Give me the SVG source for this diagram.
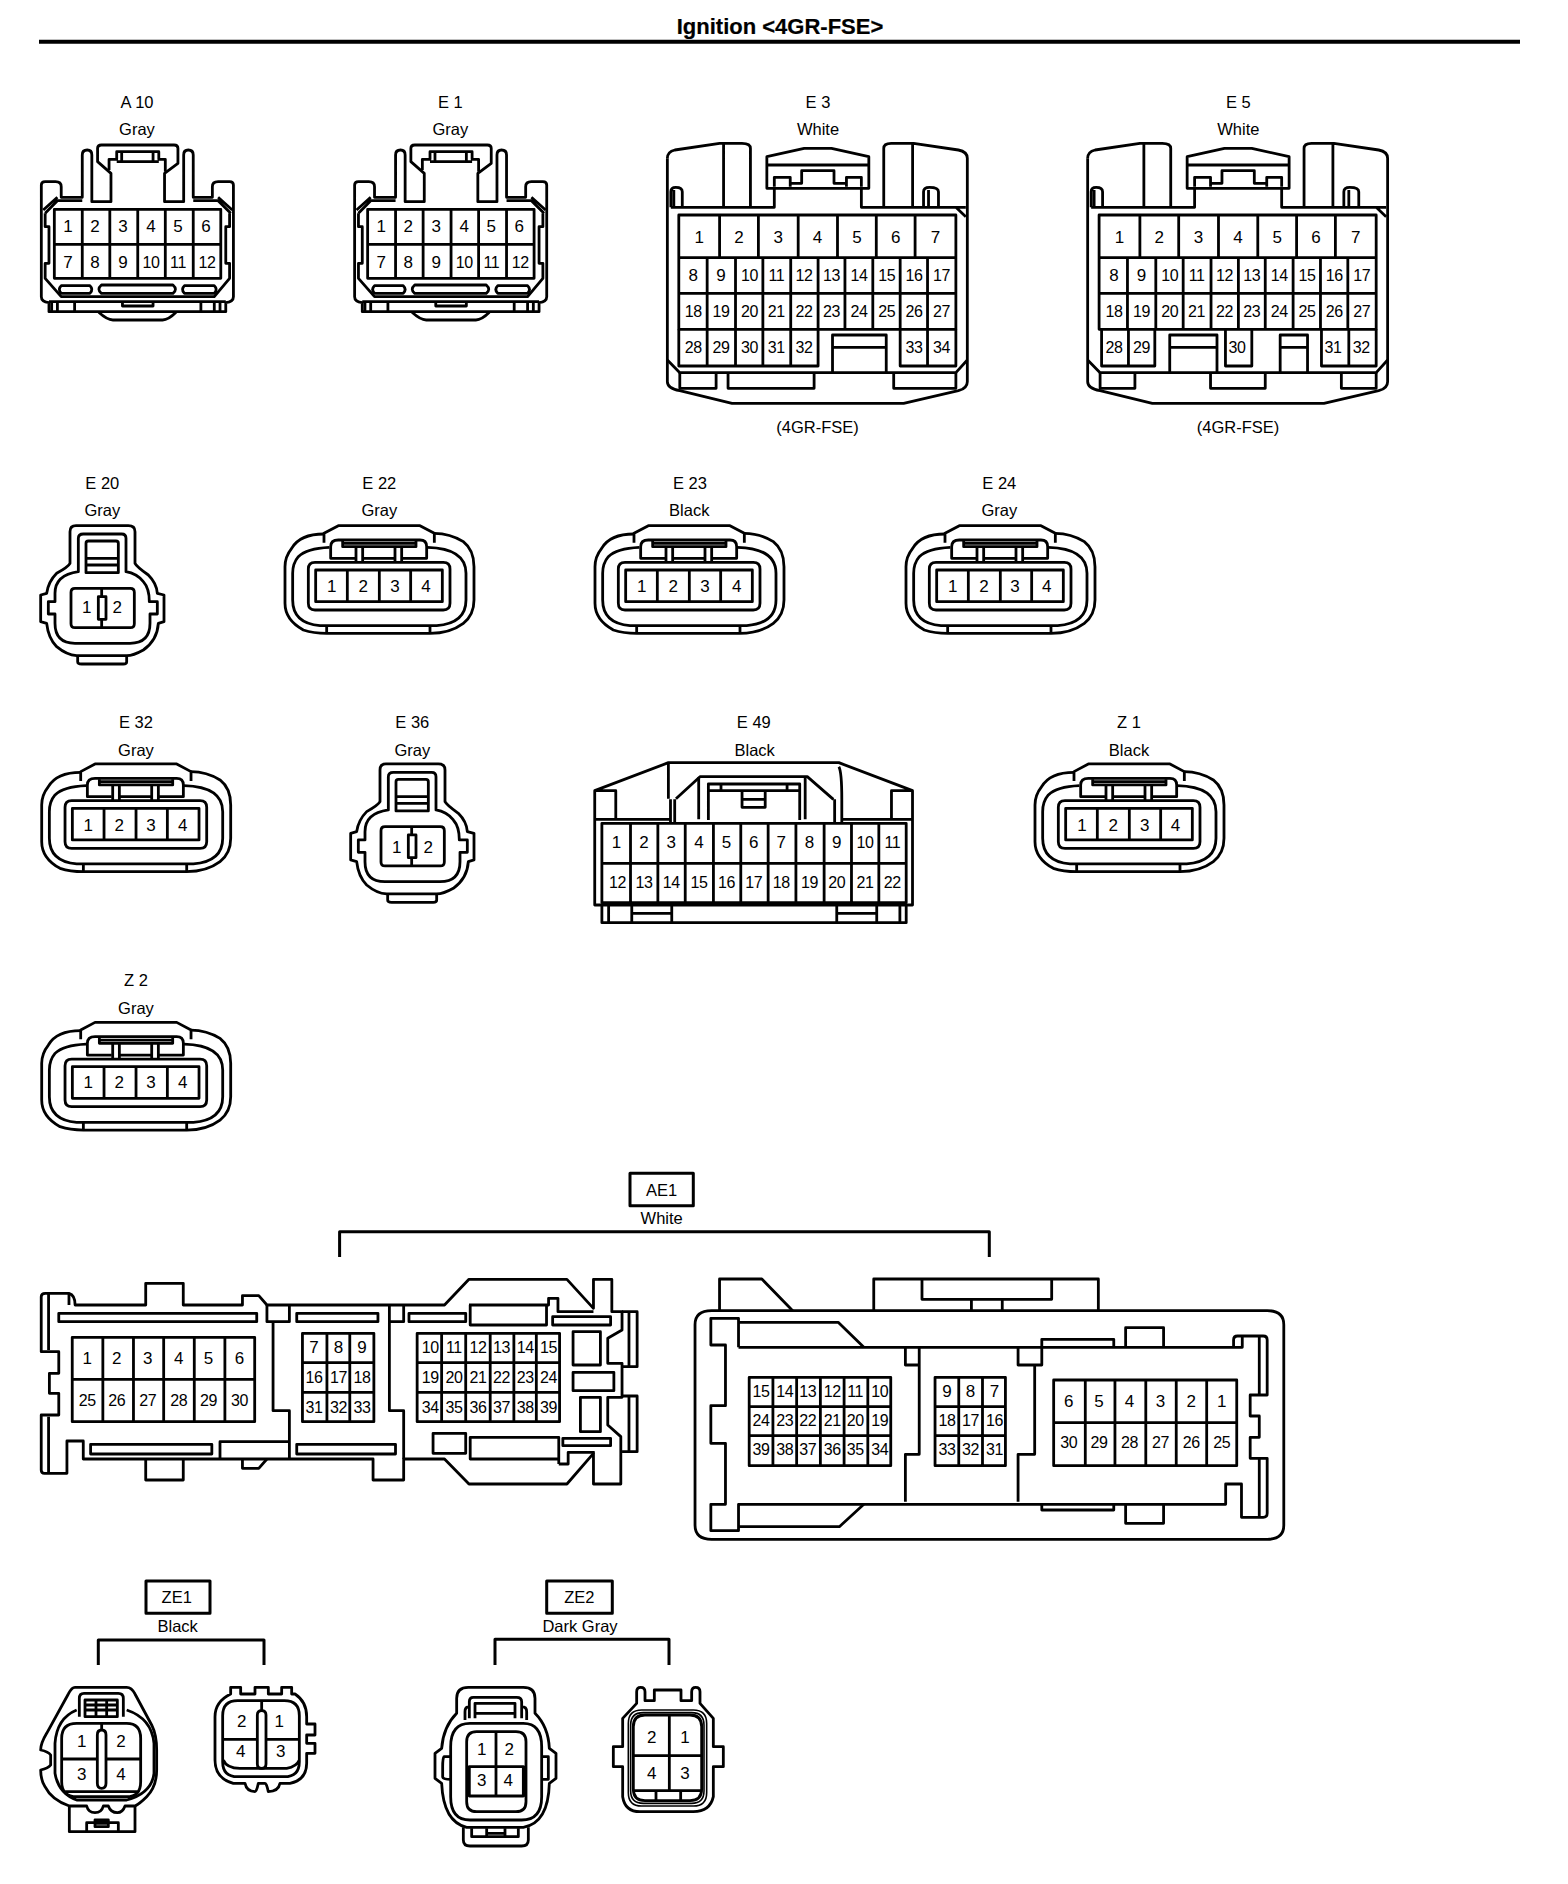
<svg xmlns="http://www.w3.org/2000/svg" xmlns:xlink="http://www.w3.org/1999/xlink" width="1568" height="1884" viewBox="0 0 1568 1884">
<style>
path{fill:none;stroke:#000;stroke-width:2.8;stroke-linejoin:round;vector-effect:non-scaling-stroke}
path.w{fill:#fff}
path.thin{stroke-width:1.6}
text{font-family:"Liberation Sans",Arial,sans-serif;fill:#000;text-anchor:middle}
.title{font-size:22px;font-weight:bold;stroke:#000;stroke-width:.2}
.l{font-size:16.5px;transform:translateY(.5px)}
.d{font-size:17px}
.t{font-size:16px;letter-spacing:-.4px}
.rule,.br{fill:none;stroke:#000;stroke-width:3}
.rule{stroke-width:4}
</style>
<defs>
<g id="a10">
<path d="M160 592H215V465Q215 450 228 450Q240 450 240 465V605H290V520L255 485V445Q255 435 265 435H455Q465 435 465 445V490L430 520V605H480V465Q480 450 492 450Q505 450 505 465V592H555V560Q555 545 570 545H600Q610 545 610 555V890Q610 905 590 908V935H128V908Q108 905 108 890V555Q108 545 118 545H145Q160 545 160 560Z"/>
<path d="M285 510V478H305V455H415V478H432V515M318 455V485H400V455M305 485H415"/>
<path d="M113 630L150 592M118 640L150 602H215M505 602H570L603 640M570 592L607 630"/>
<path d="M118 640V680H128V790H118V835L160 890H560L600 835V790H590V680H600V640"/>
<path d="M160 857H235Q245 868 235 880H160Q150 868 160 857ZM265 855H452Q465 868 452 880H265Q252 868 265 855ZM482 857H560Q570 868 560 880H482Q472 868 482 857Z"/>
<path d="M128 905H590M135 908V935M150 908V935M195 908V935M525 908V935M560 908V935M575 908V935M320 908V918H400V908"/>
<path d="M258 937Q280 960 295 960H425Q440 960 460 937"/>
<path d="M142 628H577V835H142ZM142 733H577M215 628V835M287 628V835M360 628V835M432 628V835M505 628V835"/>
</g>
<g id="e3b">
<path d="M55 235Q55 215 70 210L160 190H205Q222 190 222 205V382M168 190V382"/>
<path d="M55 235V905Q55 925 80 932L185 970H530L640 932Q658 925 658 905V235Q658 215 640 210L550 190H505Q490 190 490 205V382M548 190V382"/>
<path d="M62 382V335Q62 322 72 322Q85 322 85 335V382M68 330V382M570 382V335Q570 322 582 322Q600 322 600 335V382M580 330V382"/>
<path d="M62 382H270V325M445 325V382H655M635 382L655 410"/>
<path d="M255 230L330 205H385L460 230V325H255ZM255 255H460M270 320V292H302V320M302 310H325V272H390V310H415M415 320V292H445V320"/>
<path d="M55 840L80 878H635L658 840"/>
<path d="M78 405H635V748H78ZM78 533H635M78 640H635M160 405V533M238 405V533M318 405V533M397 405V533M475 405V533M553 405V533M135 533V748M192 533V748M247 533V748M303 533V748M358 533V748M412 533V748M468 533V748M523 533V748M578 533V748"/>
</g>
<g id="e3x">
<path d="M78 748V858H358V748M135 748V858M192 748V858M247 748V858M303 748V858M523 748V858H635V748M578 748V858"/>
<path d="M387 878V765H495V878M387 802H495"/>
<path d="M80 878V925H153V878M177 878V925H350V878M510 878V925H635V878"/>
</g>
<g id="e5x">
<path d="M83 748V858H190V748M137 748V858M332 748V858H385V748M525 748V858H635V748M580 748V858"/>
<path d="M220 878V765H315V878M220 802H315M442 878V765H497V878M442 802H497"/>
<path d="M80 878V925H150V878M302 878V925H412V878M565 878V925H635V878"/>
</g>
<g id="e20">
<path d="M150 310V215Q150 197 168 197H325Q345 197 345 215V310Q350 320 385 345Q410 370 412 400L432 405V485L415 490Q412 540 370 570Q340 587 320 587H170Q140 585 110 560Q85 535 80 490L62 485V405L80 400Q85 365 110 340Q145 320 150 310Z"/>
<path d="M175 335V235Q175 222 190 222H305Q318 222 318 235V335Q350 340 370 365Q388 385 388 425H412V462H390V490Q390 550 330 550H165Q105 550 105 490V462H85V425H105V400Q105 345 175 335Z"/>
<path d="M205 243H288Q295 243 295 250V338H198V250Q198 243 205 243ZM198 295H295M198 315H295"/>
<path d="M165 385H331Q343 385 343 397V491Q343 503 331 503H165Q153 503 153 491V397Q153 385 165 385ZM245 385V503"/>
<path class="w" d="M235 410H258V478H235Z"/>
<path d="M173 587V605Q173 612 185 612H310Q320 612 320 605V587"/>
</g>
<g id="e22">
<path d="M912 222Q840 222 815 265Q795 290 795 320V430Q795 480 850 510Q880 520 920 520H1230Q1290 520 1330 490Q1362 465 1362 420V320Q1362 270 1330 245Q1290 220 1243 220"/>
<path d="M912 248V220L955 197H1200L1243 220V248"/>
<path d="M928 262Q860 265 835 290Q818 310 818 340V420Q818 490 900 497H1250Q1338 490 1338 420V340Q1338 265 1222 262"/>
<path d="M920 497V520M1230 497V520"/>
<path d="M1005 295H932V260Q932 240 955 240H1200Q1220 240 1220 260V295H1145M1125 295H1028"/>
<path d="M968 243V260H1188V243M968 250H1188"/>
<path d="M1008 262V305M1028 262V305M1125 262V305M1145 262V305"/>
<path d="M885 307H1270Q1290 307 1290 327V430Q1290 450 1270 450H885Q865 450 865 430V327Q865 307 885 307Z"/>
<path d="M887 330H1267V425H887ZM982 330V425M1078 330V425M1172 330V425"/>
</g>
<g id="ae1l">
<path d="M70 400H120Q135 405 135 435H308V370H400V435H545V407H585L605 435H1040L1100 358H1340L1405 445V358H1450V455H1475V510L1440 535V610H1475V712H1440V795L1472 830V972H1405V880L1340 972H1100L1040 897H940V960H865V897H155V843H115V940H60Q52 940 52 930V765H95V700H72V640H95V575H52V410Q52 400 62 400Z"/>
<path d="M70 400V570M70 770V940M120 400V435"/>
<path d="M1100 435H1295V415H1318V455H1405M1103 435V495H1290V435"/>
<path d="M1475 455H1512V620H1475M1492 455V620M1475 708H1512V875H1475M1492 708V875"/>
<path d="M1305 470H1447V495H1305Z"/>
<path d="M1103 832H1320V897H1103ZM1320 912H1343V877H1408M1320 897V912"/>
<path d="M1330 835H1447V857H1330Z"/>
<path d="M1012 820H1092V880H1012Z"/>
<path d="M1355 515H1422V615H1355ZM1355 637H1455V692H1355ZM1373 712H1422V815H1373Z"/>
<path d="M95 460H580V485H95ZM173 853H470V882H173ZM678 460H877V485H678ZM678 853H920V882H678ZM953 460H1092V485H953Z"/>
<path d="M308 897V960H400V897M545 897V925H585L605 897"/>
<path d="M605 435V485H660V435M620 485V752H660V897M490 897V845H660"/>
<path d="M905 435V752H940V897M905 485H940V435"/>
<path d="M128 532H575V785H128ZM128 658H575M203 532V785M278 532V785M352 532V785M427 532V785M502 532V785"/>
<path d="M692 520H867V785H692ZM692 608H867M692 697H867M752 520V785M808 520V785"/>
<path d="M973 520H1322V785H973ZM973 608H1322M973 697H1322M1033 520V785M1092 520V785M1152 520V785M1210 520V785M1265 520V785"/>
</g>
<g id="ae1r">
<path d="M80 152H1485Q1527 152 1527 194V796Q1527 838 1485 838H80Q38 838 38 796V194Q38 152 80 152Z"/>
<path d="M100 152V57H207L285 152M490 152V57H1058V152M612 57V118H940V57M737 118V152M815 118V152"/>
<path d="M148 262H1400M148 262V175H78V255H115V437H78V550H115V733H78V812H148V733H1380V672H1420V772H1475Q1485 772 1485 760V595H1442V532H1465V468H1442V405H1485V240Q1485 228 1475 228H1410Q1400 228 1400 240V262H1422V228M1465 228V405M1465 595V772"/>
<path d="M148 187H400L465 262M148 800H403L465 733"/>
<path d="M570 262V315H605V262M605 315V583H570V725M855 262V315H915V238H1097V262M897 315V583H855V725M915 733V750H1097V733M1127 262V203H1223V262M1127 733V790H1223V733"/>
<path d="M175 352H533V617H175ZM175 440H533M175 527H533M235 352V617M295 352V617M355 352V617M415 352V617M475 352V617"/>
<path d="M645 352H823V617H645ZM645 440H823M645 527H823M705 352V617M765 352V617"/>
<path d="M945 360H1408V617H945ZM945 488H1408M1025 360V617M1100 360V617M1178 360V617M1255 360V617M1332 360V617"/>
</g>
</defs>

<text class="title" x="780" y="34">Ignition &lt;4GR-FSE&gt;</text>
<path id="title-rule" class="rule" d="M39 41.7H1520"/>

<g id="connectors">
<path class="br" d="M339.6 1257V1231.7H989.3V1257"/>
<path class="br" d="M98.3 1665V1640H264V1665"/>
<path class="br" d="M495 1665V1639.3H669V1665"/>
</g>

<g id="A10">
<use xlink:href="#a10" href="#a10" transform="scale(.38265 .33333)"/>
<text class="l" x="137" y="107.5">A 10</text><text class="l" x="137" y="134.5">Gray</text>
<text class="d" x="68" y="232.3">1</text><text class="d" x="95" y="232.3">2</text><text class="d" x="123" y="232.3">3</text><text class="d" x="151" y="232.3">4</text><text class="d" x="178" y="232.3">5</text><text class="d" x="206" y="232.3">6</text>
<text class="d" x="68" y="267.7">7</text><text class="d" x="95" y="267.7">8</text><text class="d" x="123" y="267.7">9</text><text class="t" x="151" y="267.7">10</text><text class="t" x="178" y="267.7">11</text><text class="t" x="207" y="267.7">12</text>
</g>
<g id="E1">
<use xlink:href="#a10" href="#a10" transform="translate(313.3 0) scale(.38265 .33333)"/>
<text class="l" x="450.4" y="107.5">E 1</text><text class="l" x="450.4" y="134.5">Gray</text>
<text class="d" x="381.3" y="232.3">1</text><text class="d" x="408.3" y="232.3">2</text><text class="d" x="436.3" y="232.3">3</text><text class="d" x="464.3" y="232.3">4</text><text class="d" x="491.3" y="232.3">5</text><text class="d" x="519.3" y="232.3">6</text>
<text class="d" x="381.3" y="267.7">7</text><text class="d" x="408.3" y="267.7">8</text><text class="d" x="436.3" y="267.7">9</text><text class="t" x="464.3" y="267.7">10</text><text class="t" x="491.3" y="267.7">11</text><text class="t" x="520.3" y="267.7">12</text>
</g>
<g id="E3">
<use xlink:href="#e3b" href="#e3b" transform="translate(640 80) scale(.49745 .33333)"/>
<use xlink:href="#e3x" href="#e3x" transform="translate(640 80) scale(.49745 .33333)"/>
<text class="l" x="818" y="107.3">E 3</text><text class="l" x="818" y="134.5">White</text><text class="l" x="817.6" y="432.2" style="font-size:16.5px">(4GR-FSE)</text>
<text class="d" x="699.2" y="242.7">1</text><text class="d" x="739" y="242.7">2</text><text class="d" x="778.3" y="242.7">3</text><text class="d" x="817.6" y="242.7">4</text><text class="d" x="856.9" y="242.7">5</text><text class="d" x="895.7" y="242.7">6</text><text class="d" x="935.5" y="242.7">7</text>
<text class="d" x="693.2" y="281">8</text><text class="d" x="721" y="281">9</text><text class="t" x="749.4" y="281">10</text><text class="t" x="776.3" y="281">11</text><text class="t" x="804.1" y="281">12</text><text class="t" x="831.5" y="281">13</text><text class="t" x="858.9" y="281">14</text><text class="t" x="886.7" y="281">15</text><text class="t" x="914" y="281">16</text><text class="t" x="941.4" y="281">17</text>
<text class="t" x="693.2" y="317.3">18</text><text class="t" x="721" y="317.3">19</text><text class="t" x="749.4" y="317.3">20</text><text class="t" x="776.3" y="317.3">21</text><text class="t" x="804.1" y="317.3">22</text><text class="t" x="831.5" y="317.3">23</text><text class="t" x="858.9" y="317.3">24</text><text class="t" x="886.7" y="317.3">25</text><text class="t" x="914" y="317.3">26</text><text class="t" x="941.4" y="317.3">27</text>
<text class="t" x="693.2" y="352.7">28</text><text class="t" x="721" y="352.7">29</text><text class="t" x="749.4" y="352.7">30</text><text class="t" x="776.3" y="352.7">31</text><text class="t" x="804.1" y="352.7">32</text><text class="t" x="914" y="352.7">33</text><text class="t" x="941.4" y="352.7">34</text>
</g>
<g id="E5">
<use xlink:href="#e3b" href="#e3b" transform="translate(1060.3 80) scale(.49745 .33333)"/>
<use xlink:href="#e5x" href="#e5x" transform="translate(1060.3 80) scale(.49745 .33333)"/>
<text class="l" x="1238.4" y="107.3">E 5</text><text class="l" x="1238.4" y="134.5">White</text><text class="l" x="1238" y="432.2" style="font-size:16.5px">(4GR-FSE)</text>
<text class="d" x="1119.5" y="242.7">1</text><text class="d" x="1159.3" y="242.7">2</text><text class="d" x="1198.6" y="242.7">3</text><text class="d" x="1237.9" y="242.7">4</text><text class="d" x="1277.2" y="242.7">5</text><text class="d" x="1316" y="242.7">6</text><text class="d" x="1355.8" y="242.7">7</text>
<text class="d" x="1114" y="281">8</text><text class="d" x="1141.4" y="281">9</text><text class="t" x="1169.7" y="281">10</text><text class="t" x="1196.6" y="281">11</text><text class="t" x="1224.4" y="281">12</text><text class="t" x="1251.8" y="281">13</text><text class="t" x="1279.2" y="281">14</text><text class="t" x="1307" y="281">15</text><text class="t" x="1334.3" y="281">16</text><text class="t" x="1361.7" y="281">17</text>
<text class="t" x="1114" y="317.3">18</text><text class="t" x="1141.4" y="317.3">19</text><text class="t" x="1169.7" y="317.3">20</text><text class="t" x="1196.6" y="317.3">21</text><text class="t" x="1224.4" y="317.3">22</text><text class="t" x="1251.8" y="317.3">23</text><text class="t" x="1279.2" y="317.3">24</text><text class="t" x="1307" y="317.3">25</text><text class="t" x="1334.3" y="317.3">26</text><text class="t" x="1361.7" y="317.3">27</text>
<text class="t" x="1114" y="352.7">28</text><text class="t" x="1141.4" y="352.7">29</text><text class="t" x="1236.9" y="352.7">30</text><text class="t" x="1332.9" y="352.7">31</text><text class="t" x="1361.2" y="352.7">32</text>
</g>
<g id="E20">
<use xlink:href="#e20" href="#e20" transform="translate(20 460) scale(.33333)"/>
<text class="l" x="102.3" y="488.3">E 20</text><text class="l" x="102.3" y="515">Gray</text>
<text class="d" x="86.7" y="613.3">1</text><text class="d" x="117.3" y="613.3">2</text>
</g>
<g id="E22">
<use xlink:href="#e22" href="#e22" transform="translate(20 460) scale(.33333)"/>
<text class="l" x="379.3" y="488.3">E 22</text><text class="l" x="379.3" y="515">Gray</text>
<text class="d" x="331.7" y="591.7">1</text><text class="d" x="363.3" y="591.7">2</text><text class="d" x="395" y="591.7">3</text><text class="d" x="426" y="591.7">4</text>
</g>
<g id="E23">
<use xlink:href="#e22" href="#e22" transform="translate(330 460) scale(.33333)"/>
<text class="l" x="690" y="488.3">E 23</text><text class="l" x="689.3" y="515">Black</text>
<text class="d" x="641.7" y="591.7">1</text><text class="d" x="673.3" y="591.7">2</text><text class="d" x="705" y="591.7">3</text><text class="d" x="736.7" y="591.7">4</text>
</g>
<g id="E24">
<use xlink:href="#e22" href="#e22" transform="translate(641 460) scale(.33333)"/>
<text class="l" x="999.3" y="488.3">E 24</text><text class="l" x="999.3" y="515">Gray</text>
<text class="d" x="952.7" y="591.7">1</text><text class="d" x="984" y="591.7">2</text><text class="d" x="1015" y="591.7">3</text><text class="d" x="1046.7" y="591.7">4</text>
</g>
<g id="E32">
<use xlink:href="#e22" href="#e22" transform="translate(-223.3 698.3) scale(.33333)"/>
<text class="l" x="136" y="727.7">E 32</text><text class="l" x="136" y="755">Gray</text>
<text class="d" x="88.3" y="830.7">1</text><text class="d" x="119.3" y="830.7">2</text><text class="d" x="151" y="830.7">3</text><text class="d" x="182.7" y="830.7">4</text>
</g>
<g id="E36">
<use xlink:href="#e20" href="#e20" transform="translate(330 698.3) scale(.33333)"/>
<text class="l" x="412.3" y="727.7">E 36</text><text class="l" x="412.3" y="755">Gray</text>
<text class="d" x="396.7" y="852.7">1</text><text class="d" x="428.3" y="852.7">2</text>
</g>
<g id="E49">
<g transform="translate(580 700) scale(.4209 .33333)">
<path d="M35 272L210 188H615L790 272V615H35ZM35 272H85V358M740 358V272H790M35 358H215M622 358H790"/>
<path d="M210 190V296M215 298V372M225 298V372M228 296L285 230H540L602 298M605 298V370M622 298V372M615 200Q622 215 622 298"/>
<path d="M282 232V358M535 232V358M305 360V252H522V360M305 272H522M335 255V272M492 255V272M385 272V322H440V272M385 298H440"/>
<path d="M52 370H775V608H52ZM52 490H775M120 370V608M185 370V608M250 370V608M317 370V608M382 370V608M447 370V608M513 370V608M580 370V608M645 370V608M710 370V608"/>
<path d="M52 615V668H775V615M68 615V668M123 615V668M218 615V668M610 615V668M705 615V668M760 615V668M123 640H218M610 640H705"/>
</g>
<text class="l" x="753.8" y="727.7">E 49</text><text class="l" x="754.7" y="755">Black</text>
<text class="d" x="616.6" y="848.3">1</text><text class="d" x="644" y="848.3">2</text><text class="d" x="671.3" y="848.3">3</text><text class="d" x="699.1" y="848.3">4</text><text class="d" x="726.5" y="848.3">5</text><text class="d" x="753.8" y="848.3">6</text><text class="d" x="781.2" y="848.3">7</text><text class="d" x="809.4" y="848.3">8</text><text class="d" x="836.8" y="848.3">9</text><text class="t" x="865" y="848.3">10</text><text class="t" x="892.3" y="848.3">11</text>
<text class="t" x="617.5" y="888.3">12</text><text class="t" x="644" y="888.3">13</text><text class="t" x="671.3" y="888.3">14</text><text class="t" x="699.1" y="888.3">15</text><text class="t" x="726.5" y="888.3">16</text><text class="t" x="753.8" y="888.3">17</text><text class="t" x="781.2" y="888.3">18</text><text class="t" x="809.4" y="888.3">19</text><text class="t" x="836.8" y="888.3">20</text><text class="t" x="865" y="888.3">21</text><text class="t" x="892.3" y="888.3">22</text>
</g>
<g id="Z1">
<use xlink:href="#e22" href="#e22" transform="translate(770 698.3) scale(.33333)"/>
<text class="l" x="1129" y="727.7">Z 1</text><text class="l" x="1129" y="755">Black</text>
<text class="d" x="1082.1" y="830.7">1</text><text class="d" x="1113.3" y="830.7">2</text><text class="d" x="1144.8" y="830.7">3</text><text class="d" x="1175.6" y="830.7">4</text>
</g>
<g id="Z2">
<use xlink:href="#e22" href="#e22" transform="translate(-223.3 956.7) scale(.33333)"/>
<text class="l" x="136" y="985.7">Z 2</text><text class="l" x="136" y="1013.3">Gray</text>
<text class="d" x="88.3" y="1088.3">1</text><text class="d" x="119.3" y="1088.3">2</text><text class="d" x="151" y="1088.3">3</text><text class="d" x="182.7" y="1088.3">4</text>
</g>
<g id="AE1">
<path d="M630 1173.3H693.3V1205.7H630Z" style="stroke-width:3"/>
<text class="l" x="661.7" y="1195">AE1</text><text class="l" x="661.7" y="1223">White</text>
<use xlink:href="#ae1l" href="#ae1l" transform="translate(20 1160) scale(.40816 .33333)"/>
<use xlink:href="#ae1r" href="#ae1r" transform="translate(680 1260) scale(.39541 .33333)"/>
<text class="d" x="87.3" y="1364">1</text><text class="d" x="116.7" y="1364">2</text><text class="d" x="147.8" y="1364">3</text><text class="d" x="178.8" y="1364">4</text><text class="d" x="208.6" y="1364">5</text><text class="d" x="239.6" y="1364">6</text>
<text class="t" x="87.3" y="1405.7">25</text><text class="t" x="116.7" y="1405.7">26</text><text class="t" x="147.8" y="1405.7">27</text><text class="t" x="178.8" y="1405.7">28</text><text class="t" x="208.6" y="1405.7">29</text><text class="t" x="239.6" y="1405.7">30</text>
<text class="d" x="313.9" y="1353.3">7</text><text class="d" x="338.4" y="1353.3">8</text><text class="d" x="362" y="1353.3">9</text>
<text class="t" x="313.9" y="1383.3">16</text><text class="t" x="338.4" y="1383.3">17</text><text class="t" x="362" y="1383.3">18</text>
<text class="t" x="313.9" y="1413.3">31</text><text class="t" x="338.4" y="1413.3">32</text><text class="t" x="362" y="1413.3">33</text>
<text class="t" x="430.2" y="1353.3">10</text><text class="t" x="453.9" y="1353.3">11</text><text class="t" x="478" y="1353.3">12</text><text class="t" x="501.6" y="1353.3">13</text><text class="t" x="525.3" y="1353.3">14</text><text class="t" x="548.6" y="1353.3">15</text>
<text class="t" x="430.2" y="1383.3">19</text><text class="t" x="453.9" y="1383.3">20</text><text class="t" x="478" y="1383.3">21</text><text class="t" x="501.6" y="1383.3">22</text><text class="t" x="525.3" y="1383.3">23</text><text class="t" x="548.6" y="1383.3">24</text>
<text class="t" x="430.2" y="1413.3">34</text><text class="t" x="453.9" y="1413.3">35</text><text class="t" x="478" y="1413.3">36</text><text class="t" x="501.6" y="1413.3">37</text><text class="t" x="525.3" y="1413.3">38</text><text class="t" x="548.6" y="1413.3">39</text>
<text class="t" x="761" y="1396.7">15</text><text class="t" x="784.8" y="1396.7">14</text><text class="t" x="807.7" y="1396.7">13</text><text class="t" x="832.2" y="1396.7">12</text><text class="t" x="855.2" y="1396.7">11</text><text class="t" x="879.7" y="1396.7">10</text>
<text class="t" x="761" y="1426">24</text><text class="t" x="784.8" y="1426">23</text><text class="t" x="807.7" y="1426">22</text><text class="t" x="832.2" y="1426">21</text><text class="t" x="855.2" y="1426">20</text><text class="t" x="879.7" y="1426">19</text>
<text class="t" x="761" y="1455">39</text><text class="t" x="784.8" y="1455">38</text><text class="t" x="807.7" y="1455">37</text><text class="t" x="832.2" y="1455">36</text><text class="t" x="855.2" y="1455">35</text><text class="t" x="879.7" y="1455">34</text>
<text class="d" x="946.9" y="1396.7">9</text><text class="d" x="970.6" y="1396.7">8</text><text class="d" x="994.4" y="1396.7">7</text>
<text class="t" x="946.9" y="1426">18</text><text class="t" x="970.6" y="1426">17</text><text class="t" x="994.4" y="1426">16</text>
<text class="t" x="946.9" y="1455">33</text><text class="t" x="970.6" y="1455">32</text><text class="t" x="994.4" y="1455">31</text>
<text class="d" x="1068.7" y="1406.7">6</text><text class="d" x="1099.1" y="1406.7">5</text><text class="d" x="1129.6" y="1406.7">4</text><text class="d" x="1160.4" y="1406.7">3</text><text class="d" x="1191.3" y="1406.7">2</text><text class="d" x="1221.7" y="1406.7">1</text>
<text class="t" x="1068.7" y="1448.3">30</text><text class="t" x="1099.1" y="1448.3">29</text><text class="t" x="1129.6" y="1448.3">28</text><text class="t" x="1160.4" y="1448.3">27</text><text class="t" x="1191.3" y="1448.3">26</text><text class="t" x="1221.7" y="1448.3">25</text>
</g>
<g id="ZE1">
<path d="M146 1581H210V1613.3H146Z" style="stroke-width:3"/>
<text class="l" x="176.7" y="1602.3">ZE1</text><text class="l" x="177.7" y="1631">Black</text>
<g transform="translate(20 1570) scale(.33333)">
<path d="M165 352H320Q335 352 345 372L395 465Q410 495 410 540V600Q410 650 380 680Q360 700 345 708H315Q308 728 292 728Q272 728 265 708H250Q245 728 225 728Q205 728 200 708H148Q95 690 75 650Q62 630 62 600Q85 595 92 585V555Q85 545 62 540Q62 520 80 490L145 372Q155 352 165 352Z"/>
<path d="M148 705V785H345V708M200 785V758H295V785M225 750H265V770H225ZM225 760H265"/>
<path d="M170 420Q110 445 105 520V610Q115 670 170 690H320Q395 670 402 610V520Q395 445 320 420"/>
<path d="M170 460H320Q362 460 362 505V635Q362 680 320 680H170Q125 680 125 635V505Q125 460 170 460ZM125 567H362M135 665H355M245 460V482"/>
<path class="w" d="M245 480Q258 480 258 495V640Q258 655 245 655Q232 655 232 640V495Q232 480 245 480Z"/>
<path d="M178 440V385Q178 370 192 370H295Q310 370 310 385V440M195 390H292V440H195ZM195 405H292M195 420H292M228 390V440M260 390V440"/>
</g>
<text class="d" x="81.7" y="1746.7">1</text><text class="d" x="121" y="1746.7">2</text><text class="d" x="81.7" y="1780">3</text><text class="d" x="121" y="1780">4</text>
<g transform="translate(20 1570) scale(.33333)">
<path d="M632 372V352H662V372H705V352H745V372H785V352H815V372H825Q860 395 860 440V462H885V495H860V520H885V550H860V580Q860 630 810 640H780Q775 665 745 665Q740 640 735 640H715Q710 665 705 665Q680 665 675 640H640Q585 625 585 570V440Q585 395 632 372Z"/>
<path d="M653 392H793Q838 392 838 437V575Q838 620 793 620H653Q608 620 608 575V437Q608 392 653 392ZM608 508H838M725 392V425M610 570Q620 595 660 595H800Q830 590 838 570"/>
<path class="w" d="M725 422Q738 422 738 435V582Q738 595 725 595Q712 595 712 582V435Q712 422 725 422Z"/>
</g>
<text class="d" x="241.7" y="1726.7">2</text><text class="d" x="279.3" y="1726.7">1</text><text class="d" x="240.7" y="1756.7">4</text><text class="d" x="280.7" y="1756.7">3</text>
</g>
<g id="ZE2">
<path d="M546.7 1581H612.3V1613.3H546.7Z" style="stroke-width:3"/>
<text class="l" x="579.3" y="1602.3">ZE2</text><text class="l" x="580" y="1631">Dark Gray</text>
<g transform="translate(420 1570) scale(.33333)">
<path d="M110 430V385Q110 352 145 352H310Q345 352 345 385V430Q385 470 388 535L408 550V625L388 640Q385 760 310 772H140Q70 755 65 640L45 625V550L65 535Q70 470 110 430Z"/>
<path d="M130 772V810Q130 828 150 828H305Q325 828 325 810V772M155 775V800H295V775M200 775V800M255 775V800M200 790H255"/>
<path d="M150 460H310Q365 460 365 530V680Q365 750 305 750H150Q92 750 92 680V530Q92 460 150 460Z"/>
<path d="M135 450V425Q135 410 148 410M148 445V395Q148 382 160 382H290Q305 382 305 395V445M320 450V425Q320 410 305 410M165 445V400H285V445M165 430H285"/>
<path d="M92 560H72Q68 565 68 590V620Q68 628 92 628M365 560H385V628H365"/>
<path d="M170 485H288Q318 485 318 515V695Q318 725 288 725H170Q140 725 140 695V515Q140 485 170 485ZM228 485V678M148 590H310V678H148Z"/>
</g>
<text class="d" x="481.7" y="1755">1</text><text class="d" x="509.3" y="1755">2</text><text class="d" x="481.7" y="1786">3</text><text class="d" x="508.3" y="1786">4</text>
<g transform="translate(420 1570) scale(.33333)">
<path d="M650 400V365Q650 352 662 352Q675 352 675 365V392H703V360H783V392H815V365Q815 352 827 352Q840 352 840 365V400L880 445V530H910V590H880V680Q870 725 820 725H660Q615 725 608 680V590H580V530H608V445Z"/>
<path class="thin" d="M665 420H820Q860 420 860 460V668Q860 708 820 708H665Q625 708 625 668V460Q625 420 665 420ZM670 428H815Q852 428 852 465V663Q852 700 815 700H670Q632 700 632 663V465Q632 428 670 428Z"/>
<path d="M675 435H810Q845 435 845 470V657Q845 692 810 692H675Q640 692 640 657V470Q640 435 675 435ZM748 435V662M640 557H845M640 662H845M708 662V692M782 662V692"/>
</g>
<text class="d" x="651.7" y="1742.7">2</text><text class="d" x="685" y="1742.7">1</text><text class="d" x="651.7" y="1779.3">4</text><text class="d" x="685" y="1779.3">3</text>
</g>
</svg>
